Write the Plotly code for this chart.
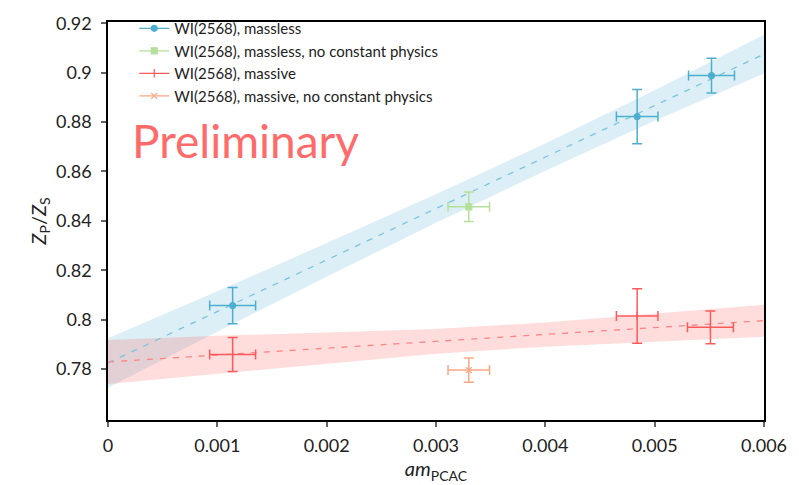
import plotly.graph_objects as go

# ---- data ----
ml_x = [0.00114, 0.00484, 0.00552]
ml_y = [0.8057, 0.8822, 0.8988]
ml_xerr = [0.00021, 0.00019, 0.00021]
ml_yerr = [0.0073, 0.0110, 0.0070]

mlnc_x = [0.00330]
mlnc_y = [0.8457]
mlnc_xerr = [0.00019]
mlnc_yerr = [0.0060]

mv_x = [0.00114, 0.00484, 0.00551]
mv_y = [0.7859, 0.8015, 0.7969]
mv_xerr = [0.00021, 0.00019, 0.00021]
mv_yerr = [0.0069, 0.0110, 0.0066]

mvnc_x = [0.00330]
mvnc_y = [0.7796]
mvnc_xerr = [0.00019]
mvnc_yerr = [0.0049]

band_x = [0.0, 0.001, 0.002, 0.003, 0.004, 0.005, 0.006]
blue_fit = [0.7825, 0.8033, 0.8242, 0.8450, 0.8658, 0.8867, 0.9075]
blue_hw = [0.0100, 0.0082, 0.0068, 0.0058, 0.0055, 0.0062, 0.0078]
red_fit = [0.7829, 0.7857, 0.7885, 0.7912, 0.7940, 0.7968, 0.7996]
red_hw = [0.0089, 0.0078, 0.0063, 0.0050, 0.0049, 0.0056, 0.0065]

x_ticks = [0, 0.001, 0.002, 0.003, 0.004, 0.005, 0.006]
x_tick_labels = ["0", "0.001", "0.002", "0.003", "0.004", "0.005", "0.006"]
y_ticks = [0.78, 0.8, 0.82, 0.84, 0.86, 0.88, 0.9, 0.92]
y_tick_labels = ["0.78", "0.8", "0.82", "0.84", "0.86", "0.88", "0.9", "0.92"]

labels = ["WI(2568), massless", "WI(2568), massless, no constant physics",
          "WI(2568), massive", "WI(2568), massive, no constant physics"]

BLUE = "#4eaed0"
GREEN = "#b5e09c"
RED = "#ff5a5a"
ORANGE = "#fba882"

fig = go.Figure()


def band(xs, c, hw, color_fill):
    up = [a + b for a, b in zip(c, hw)]
    lo = [a - b for a, b in zip(c, hw)]
    fig.add_trace(go.Scatter(x=xs + xs[::-1], y=up + lo[::-1], fill="toself",
                             fillcolor=color_fill, line=dict(width=0),
                             mode="lines", showlegend=False, hoverinfo="skip"))


band(band_x, blue_fit, blue_hw, "rgba(78,174,208,0.2)")
band(band_x, red_fit, red_hw, "rgba(255,85,85,0.2)")

fig.add_trace(go.Scatter(x=band_x, y=blue_fit, mode="lines",
                         line=dict(color="#7cc4de", width=1.3, dash="6px,7px"),
                         showlegend=False))
fig.add_trace(go.Scatter(x=band_x, y=red_fit, mode="lines",
                         line=dict(color="#ff8585", width=1.3, dash="6px,7px"),
                         showlegend=False))


def pts(x, y, xe, ye, color, symbol, size):
    fig.add_trace(go.Scatter(
        x=x, y=y, mode="markers",
        marker=dict(color=color, symbol=symbol, size=size,
                    line=dict(color=color, width=1.2)),
        error_x=dict(type="data", array=xe, color=color, thickness=1.5, width=5),
        error_y=dict(type="data", array=ye, color=color, thickness=1.5, width=5),
        showlegend=False))


pts(ml_x, ml_y, ml_xerr, ml_yerr, BLUE, "circle", 6)
pts(mlnc_x, mlnc_y, mlnc_xerr, mlnc_yerr, GREEN, "square", 6)
pts(mv_x, mv_y, mv_xerr, mv_yerr, RED, "line-ns", 6)
pts(mvnc_x, mvnc_y, mvnc_xerr, mvnc_yerr, ORANGE, "x-thin", 6)

# legend entries
for lab, col, sym in zip(labels, [BLUE, GREEN, RED, ORANGE],
                         ["circle", "square", "line-ns", "x-thin"]):
    fig.add_trace(go.Scatter(x=[None], y=[None], mode="lines+markers", name=lab,
                             line=dict(color=col, width=1.2),
                             marker=dict(color=col, symbol=sym, size=6,
                                         line=dict(color=col, width=1.2))))

fig.add_annotation(text="Preliminary", xref="paper", yref="paper",
                   x=0.033, y=0.702, xanchor="left", yanchor="middle",
                   showarrow=False, font=dict(size=46, color="#ff6b6b", family="Lato"))

axis_common = dict(showline=True, linecolor="black", linewidth=1.5, mirror=True,
                   ticks="outside", ticklen=5, tickcolor="#666", tickwidth=1.5,
                   showgrid=False, zeroline=False,
                   tickfont=dict(size=18, color="#222", family="Lato"))

fig.update_xaxes(range=[0, 0.006], tickvals=x_ticks, ticktext=x_tick_labels,
                 title=dict(text="<i>am</i><sub>PCAC</sub>",
                            font=dict(size=20, color="#222", family="Lato"), standoff=4),
                 ticklabelstandoff=4,
                 **axis_common)
fig.update_yaxes(range=[0.7594, 0.9205], tickvals=y_ticks, ticktext=y_tick_labels,
                 title=dict(text="<i>Z</i><sub>P</sub>/<i>Z</i><sub>S</sub>",
                            font=dict(size=20, color="#222", family="Lato"), standoff=4),
                 ticklabelstandoff=6,
                 **axis_common)

fig.update_layout(
    width=799, height=485,
    margin=dict(l=108, r=35, t=18, b=65),
    plot_bgcolor="white", paper_bgcolor="white",
    font=dict(family="Lato", color="#222"),
    legend=dict(x=0.04, y=1.025, xanchor="left", yanchor="top",
                bgcolor="rgba(0,0,0,0)", font=dict(size=15, color="#222"),
                tracegroupgap=0, itemwidth=30),
)

fig.write_html("out.html")
